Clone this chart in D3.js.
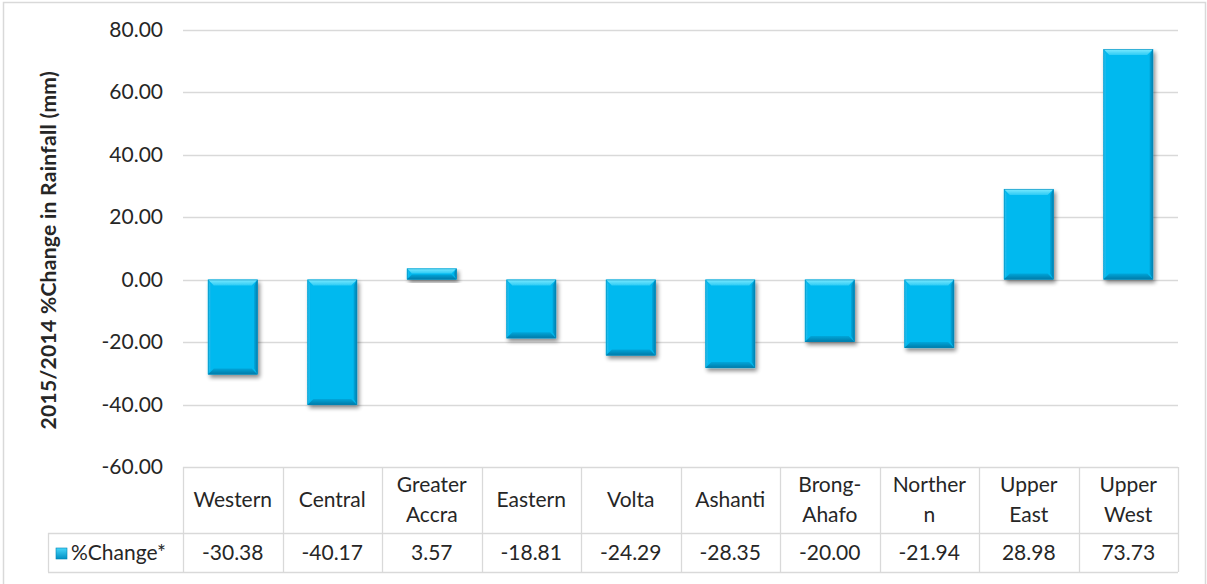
<!DOCTYPE html>
<html>
<head>
<meta charset="utf-8">
<script src="https://cdn.jsdelivr.net/npm/d3@7"></script>
<style>
  html, body { margin: 0; padding: 0; background: #fff; }
  svg text { font-family: Lato, "Open Sans", sans-serif; fill: #262626; }
</style>
</head>
<body>
<svg id="chart" width="1207" height="584"></svg>
<script>
// Regions (header lines as printed in the table) and 2015/2014 % change values
const regions = ["Western", "Central", "Greater Accra", "Eastern", "Volta", "Ashanti", "Brong-Ahafo", "Northern", "Upper East", "Upper West"];
const headerLines = [["Western"], ["Central"], ["Greater", "Accra"], ["Eastern"], ["Volta"], ["Ashanti"], ["Brong-", "Ahafo"], ["Norther", "n"], ["Upper", "East"], ["Upper", "West"]];
const pctChange = [-30.38, -40.17, 3.57, -18.81, -24.29, -28.35, -20.00, -21.94, 28.98, 73.73];
const yTicks = [80, 60, 40, 20, 0, -20, -40, -60];
const seriesName = "%Change*";
const yTitle = "2015/2014 %Change in Rainfall (mm)";

const fmt = v => d3.format(".2f")(v).replace("\u2212", "-");
const FS = 21;

const svg = d3.select("#chart");
const plot = { left: 183, right: 1178, top: 29.5, bottom: 467 };

const x = d3.scaleBand().domain(regions).range([plot.left, plot.right]).paddingInner(0.5).paddingOuter(0.25);
const xCell = d3.scaleBand().domain(regions).range([plot.left, plot.right]);
const y = d3.scaleLinear().domain([-60, 80]).range([plot.bottom, plot.top]);

// defs: shadow + bevel gradients
const defs = svg.append("defs");
const f = defs.append("filter").attr("id", "shadow").attr("x", "-20%").attr("y", "-20%").attr("width", "150%").attr("height", "150%");
f.append("feGaussianBlur").attr("in", "SourceAlpha").attr("stdDeviation", 2.2).attr("result", "b");
f.append("feOffset").attr("in", "b").attr("dx", 2).attr("dy", 3).attr("result", "o");
f.append("feComponentTransfer").attr("in", "o").attr("result", "s")
  .append("feFuncA").attr("type", "linear").attr("slope", 0.45);
const m = f.append("feMerge");
m.append("feMergeNode").attr("in", "s");
m.append("feMergeNode").attr("in", "SourceGraphic");

function grad(id, x1, y1, x2, y2, stops) {
  const g = defs.append("linearGradient").attr("id", id)
    .attr("x1", x1).attr("y1", y1).attr("x2", x2).attr("y2", y2);
  stops.forEach(s => g.append("stop").attr("offset", s[0]).attr("stop-color", s[1]));
}
grad("gTop", 0, 0, 0, 1, [[0, "#7FEBFF"], [1, "#2CCBF5"]]);
grad("gBot", 0, 0, 0, 1, [[0, "#00A6DA"], [1, "#0079A6"]]);
grad("gLeft", 0, 0, 1, 0, [[0, "#2FC6F2"], [1, "#08B6EC"]]);
grad("gRight", 0, 0, 1, 0, [[0, "#00A8DD"], [1, "#007FAE"]]);
grad("gKey", 0, 0, 0, 1, [[0, "#47D6FA"], [1, "#0090C4"]]);

// outer chart frame
svg.append("rect").attr("x", 3.5).attr("y", 2.5).attr("width", 1202).attr("height", 600)
  .attr("fill", "none").attr("stroke", "#D9D9D9").attr("stroke-width", 1.5);

// gridlines
svg.append("g").selectAll("line").data(yTicks.filter(t => t !== -60)).join("line")
  .attr("x1", plot.left).attr("x2", plot.right)
  .attr("y1", d => Math.round(y(d)) + 0.5).attr("y2", d => Math.round(y(d)) + 0.5)
  .attr("stroke", "#D9D9D9").attr("stroke-width", 1.3);

// y tick labels
svg.append("g").selectAll("text").data(yTicks).join("text")
  .attr("x", 163).attr("y", d => y(d)).attr("dy", "0.35em")
  .attr("text-anchor", "end").attr("font-size", FS)
  .text(d => fmt(d));

// y title
svg.append("text")
  .attr("transform", `translate(56,${(plot.top + plot.bottom) / 2 + 2}) rotate(-90)`)
  .attr("text-anchor", "middle").attr("font-size", 21).attr("font-weight", "bold")
  .attr("letter-spacing", 0.3)
  .text(yTitle);

// bars with bevelled edges
const bars = svg.append("g").selectAll("g").data(regions.map((r, i) => ({ r, v: pctChange[i] }))).join("g")
  .attr("filter", "url(#shadow)");
bars.each(function (d) {
  const g = d3.select(this);
  const x0 = x(d.r), w = x.bandwidth();
  const yTop = Math.min(y(d.v), y(0)), yBot = Math.max(y(d.v), y(0));
  const h = yBot - yTop;
  const b = Math.min(6, h / 2.2);
  const x1 = x0 + w;
  g.append("rect").attr("x", x0).attr("y", yTop).attr("width", w).attr("height", h).attr("fill", "#03B9EF");
  const poly = (pts, fill) => g.append("polygon").attr("points", pts.map(p => p.join(",")).join(" ")).attr("fill", fill);
  poly([[x0, yTop], [x1, yTop], [x1 - b, yTop + b], [x0 + b, yTop + b]], "url(#gTop)");
  poly([[x0, yBot], [x1, yBot], [x1 - b, yBot - b], [x0 + b, yBot - b]], "url(#gBot)");
  poly([[x0, yTop], [x0 + b * 0.5, yTop + b], [x0 + b * 0.5, yBot - b], [x0, yBot]], "url(#gLeft)");
  poly([[x1, yTop], [x1 - b * 0.6, yTop + b], [x1 - b * 0.6, yBot - b], [x1, yBot]], "url(#gRight)");
  g.append("rect").attr("x", x0 + 0.5).attr("y", yTop + 0.5).attr("width", w - 1).attr("height", Math.max(0, h - 1))
    .attr("fill", "none").attr("stroke", "#0089BA").attr("stroke-width", 0.8).attr("stroke-opacity", 0.7);
});

// data table
const tTop = plot.bottom, tMid = 533, tBot = 572, legL = 48;
const tbl = svg.append("g").attr("stroke", "#D9D9D9").attr("stroke-width", 1.3).attr("fill", "none");
tbl.append("line").attr("x1", plot.left).attr("x2", plot.right).attr("y1", tTop + 0.5).attr("y2", tTop + 0.5);
tbl.append("line").attr("x1", legL).attr("x2", plot.right).attr("y1", tMid + 0.5).attr("y2", tMid + 0.5);
tbl.append("line").attr("x1", legL).attr("x2", plot.right).attr("y1", tBot + 0.5).attr("y2", tBot + 0.5);
tbl.append("line").attr("x1", legL + 0.5).attr("x2", legL + 0.5).attr("y1", tMid).attr("y2", tBot);
const cellEdges = regions.map(r => xCell(r)).concat([plot.right]);
tbl.selectAll("line.v").data(cellEdges).join("line").attr("class", "v")
  .attr("x1", d => Math.round(d) + 0.5).attr("x2", d => Math.round(d) + 0.5)
  .attr("y1", tTop).attr("y2", tBot);

// header text
const hdr = svg.append("g").selectAll("text").data(regions.map((r, i) => ({ r, lines: headerLines[i] }))).join("text")
  .attr("text-anchor", "middle").attr("font-size", FS);
hdr.each(function (d) {
  const t = d3.select(this);
  const cx = xCell(d.r) + xCell.bandwidth() / 2;
  const mid = (tTop + tMid) / 2;
  const lh = 30;
  d.lines.forEach((ln, k) => {
    t.append("tspan").attr("x", cx)
      .attr("y", mid + (k - (d.lines.length - 1) / 2) * lh).attr("dy", "0.35em").text(ln);
  });
});

// value row
svg.append("g").selectAll("text").data(regions.map((r, i) => ({ r, v: pctChange[i] }))).join("text")
  .attr("x", d => xCell(d.r) + xCell.bandwidth() / 2).attr("y", (tMid + tBot) / 2).attr("dy", "0.35em")
  .attr("text-anchor", "middle").attr("font-size", FS)
  .text(d => fmt(d.v));

// legend key + series name
svg.append("rect").attr("x", 56).attr("y", 548).attr("width", 11).attr("height", 11)
  .attr("fill", "url(#gKey)").attr("stroke", "#0083B3").attr("stroke-width", 0.6);
svg.append("text").attr("x", 71).attr("y", (tMid + tBot) / 2).attr("dy", "0.35em")
  .attr("font-size", FS).text(seriesName);
</script>
</body>
</html>
